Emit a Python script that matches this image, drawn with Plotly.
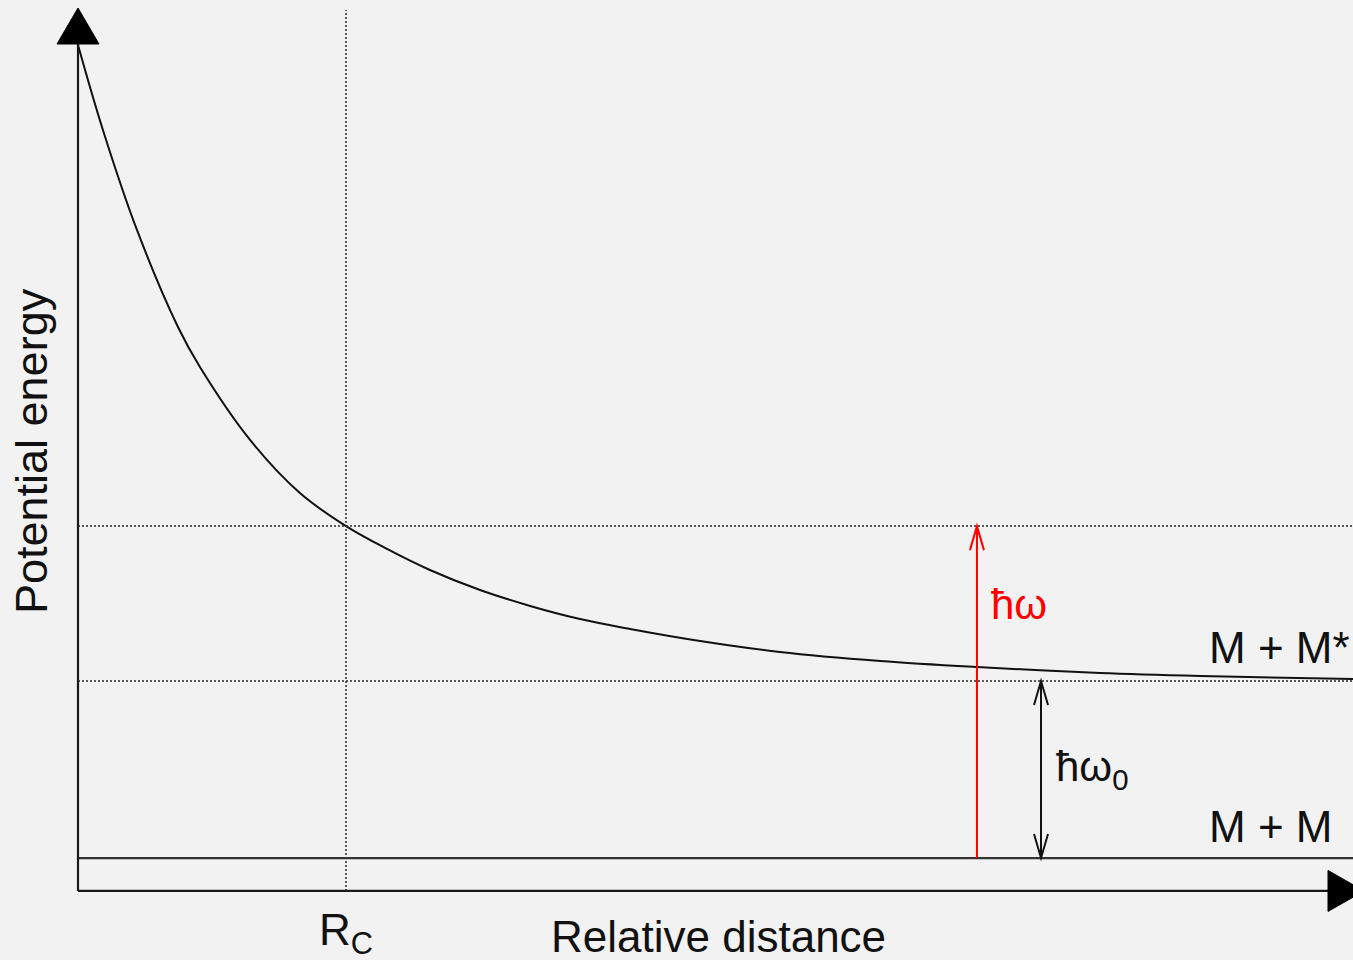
import plotly.graph_objects as go

# Potential energy curve of the excited pair M + M* versus relative distance
distance = [0.0, 0.093, 0.22, 0.373, 0.455, 0.642, 0.828, 1.0, 1.153, 1.313,
            1.5, 1.687, 1.873, 2.06, 2.321, 2.619, 2.993, 3.354, 3.813, 4.187, 4.757]
energy = [4.593, 4.113, 3.548, 3.0, 2.774, 2.362, 2.062, 1.875, 1.746, 1.627,
          1.514, 1.424, 1.35, 1.294, 1.226, 1.164, 1.113, 1.079, 1.045, 1.028, 1.011]

# Reference levels and marker positions
ground_level = 0.0        # M + M
excited_level = 1.0       # M + M* asymptote
r_c = 1.0                 # Condon point R_C
e_c = 1.875               # energy at R_C
photon_x = 3.354          # ħω arrow position
gap_x = 3.593             # ħω0 arrow position

# View window
X_MIN, X_MAX = -0.291, 4.757
Y_MIN, Y_MAX = -0.576, 4.847
W, H = 1353, 960
XPX = (X_MAX - X_MIN) / W
YPX = (Y_MAX - Y_MIN) / H

axis_y0 = -0.186           # where the two axes meet
AX_COL = "#1a1a1a"
DOT = "2px,2px"
DOT_COL = "#2a2a2a"

fig = go.Figure()

fig.add_trace(go.Scatter(
    x=distance, y=energy, mode="lines",
    line=dict(color="#111111", width=2, shape="spline", smoothing=1.0),
    hoverinfo="skip", showlegend=False))

shapes = []
# dotted guides
shapes.append(dict(type="line", x0=0, x1=X_MAX, y0=e_c, y1=e_c,
                   line=dict(color=DOT_COL, width=1.5, dash=DOT)))
shapes.append(dict(type="line", x0=0, x1=X_MAX, y0=excited_level, y1=excited_level,
                   line=dict(color=DOT_COL, width=1.5, dash=DOT)))
shapes.append(dict(type="line", x0=r_c, x1=r_c, y0=axis_y0, y1=Y_MAX - 10 * YPX,
                   line=dict(color=DOT_COL, width=1.5, dash=DOT)))
# ground level
shapes.append(dict(type="line", x0=0, x1=X_MAX, y0=ground_level, y1=ground_level,
                   line=dict(color="#333333", width=2.2)))
# axes
y_tip = Y_MAX - 8 * YPX
y_base = Y_MAX - 44 * YPX
shapes.append(dict(type="line", x0=0, x1=0, y0=axis_y0, y1=y_base,
                   line=dict(color=AX_COL, width=2.2)))
shapes.append(dict(type="line", x0=0, x1=X_MAX, y0=axis_y0, y1=axis_y0,
                   line=dict(color=AX_COL, width=2.2)))
# filled arrowheads on the axes
hw = 21 * XPX
shapes.append(dict(type="path",
                   path=f"M {-hw} {y_base} L {hw} {y_base} L 0 {y_tip} Z",
                   fillcolor="black", line=dict(color="black", width=1)))
xb = X_MAX - 25 * XPX
xt = X_MAX + 11 * XPX
hh = 20.5 * YPX
shapes.append(dict(type="path",
                   path=f"M {xb} {axis_y0 - hh} L {xb} {axis_y0 + hh} L {xt} {axis_y0} Z",
                   fillcolor="black", line=dict(color="black", width=1)))


def vhead(x, y, up, color):
    dx = 7 * XPX
    dy = 24 * YPX * (-1 if up else 1)
    return dict(type="path",
                path=f"M {x - dx} {y + dy} L {x} {y} L {x + dx} {y + dy}",
                line=dict(color=color, width=2))


# photon arrow
shapes.append(dict(type="line", x0=photon_x, x1=photon_x, y0=ground_level, y1=e_c,
                   line=dict(color="#ff0000", width=2)))
shapes.append(vhead(photon_x, e_c, True, "#ff0000"))
# gap arrow (double headed)
shapes.append(dict(type="line", x0=gap_x, x1=gap_x, y0=ground_level, y1=excited_level,
                   line=dict(color="#111111", width=2)))
shapes.append(vhead(gap_x, excited_level, True, "#111111"))
shapes.append(vhead(gap_x, ground_level, False, "#111111"))

FONT = "Liberation Sans, Arial, sans-serif"
annotations = [
    dict(x=X_MIN + 31 * XPX, y=2.299, text="Potential energy", textangle=-90,
         font=dict(size=45, color="#111111", family=FONT)),
    dict(x=2.39, y=-0.446, text="Relative distance",
         font=dict(size=44, color="#111111", family=FONT)),
    dict(x=r_c, y=-0.425, text="R<sub>C</sub>",
         font=dict(size=44, color="#111111", family=FONT)),
    dict(x=4.212, y=excited_level, yshift=34, xanchor="left", text="M + M*",
         font=dict(size=44, color="#111111", family=FONT)),
    dict(x=4.212, y=ground_level, yshift=32, xanchor="left", text="M + M",
         font=dict(size=44, color="#111111", family=FONT)),
    dict(x=photon_x, xshift=12, y=1.43, xanchor="left", text="ħω",
         font=dict(size=42, color="#ff0000", family=FONT)),
    dict(x=gap_x, xshift=13, y=0.5, xanchor="left", text="ħω<sub>0</sub>",
         font=dict(size=42, color="#111111", family=FONT)),
]
for a in annotations:
    a.update(showarrow=False, xref="x", yref="y")

fig.update_layout(
    width=W, height=H,
    margin=dict(l=0, r=0, t=0, b=0),
    paper_bgcolor="#f2f2f2", plot_bgcolor="#f2f2f2",
    xaxis=dict(range=[X_MIN, X_MAX], visible=False, fixedrange=True),
    yaxis=dict(range=[Y_MIN, Y_MAX], visible=False, fixedrange=True),
    shapes=shapes, annotations=annotations,
    showlegend=False,
)

fig.write_html("out.html", config={"displayModeBar": False})
